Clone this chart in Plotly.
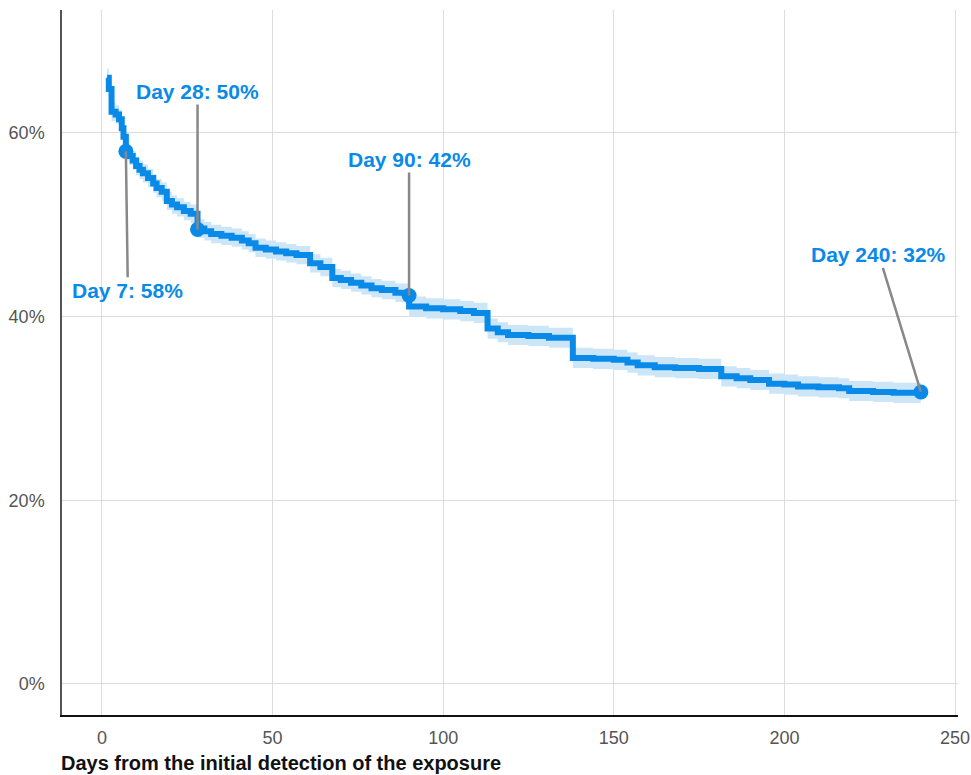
import plotly.graph_objects as go

# Kaplan-Meier style step curve (day, % remaining)
days = [1.5, 2.0, 2.8, 4.0, 5.0, 5.8, 6.3, 7.0, 8.0, 9.0, 10, 11, 12, 13.5, 15, 16, 17.5, 19,
        20.5, 22, 24, 26, 28, 30, 32, 35, 38, 41, 43, 45, 48, 51, 54, 57, 61, 64, 67.5, 70,
        73, 76, 79, 82, 86, 90, 95, 100, 105, 109, 113, 116, 119, 125, 131, 138, 144, 150,
        154, 157, 162, 168, 175, 181.5, 186, 190, 195.5, 200, 204, 210, 216, 219, 226, 232, 240]
share = [66.0, 64.8, 62.3, 62.0, 61.5, 60.5, 59.6, 58.0, 57.5, 57.0, 56.4, 56.0, 55.6, 55.1,
         54.5, 54.0, 53.6, 52.6, 52.2, 51.9, 51.5, 51.2, 49.6, 49.3, 49.0, 48.8, 48.6, 48.3,
         48.0, 47.5, 47.3, 47.1, 46.9, 46.7, 45.8, 45.4, 44.2, 44.0, 43.7, 43.4, 43.1, 42.9,
         42.6, 41.1, 40.9, 40.8, 40.6, 40.4, 38.7, 38.3, 38.0, 37.9, 37.7, 35.5, 35.4, 35.3,
         35.0, 34.7, 34.5, 34.4, 34.3, 33.5, 33.3, 33.1, 32.7, 32.6, 32.4, 32.3, 32.2, 31.9,
         31.8, 31.7, 31.6]
ci_low = [65.0, 63.8, 61.3, 61.0, 60.5, 59.5, 58.6, 57.0, 56.5, 56.0, 55.4, 55.0, 54.6, 54.1,
          53.5, 53.0, 52.6, 51.6, 51.2, 50.9, 50.5, 50.2, 48.6, 48.3, 48.0, 47.8, 47.6, 47.3,
          47.0, 46.5, 46.3, 46.1, 45.9, 45.7, 44.8, 44.4, 43.2, 43.0, 42.7, 42.4, 42.1, 41.9,
          41.6, 40.0, 39.8, 39.7, 39.5, 39.3, 37.6, 37.2, 36.9, 36.8, 36.6, 34.4, 34.3, 34.2,
          33.9, 33.6, 33.4, 33.3, 33.2, 32.4, 32.2, 32.0, 31.6, 31.5, 31.3, 31.2, 31.1, 30.8,
          30.7, 30.6, 30.5]
ci_high = [67.0, 65.8, 63.3, 63.0, 62.5, 61.5, 60.6, 59.0, 58.5, 58.0, 57.4, 57.0, 56.6, 56.1,
           55.5, 55.0, 54.6, 53.6, 53.2, 52.9, 52.5, 52.2, 50.6, 50.3, 50.0, 49.8, 49.6, 49.3,
           49.0, 48.5, 48.3, 48.1, 47.9, 47.7, 46.8, 46.4, 45.2, 45.0, 44.7, 44.4, 44.1, 43.9,
           43.6, 42.2, 42.0, 41.9, 41.7, 41.5, 39.8, 39.4, 39.1, 39.0, 38.8, 36.6, 36.5, 36.4,
           36.1, 35.8, 35.6, 35.5, 35.4, 34.6, 34.4, 34.2, 33.8, 33.7, 33.5, 33.4, 33.3, 33.0,
           32.9, 32.8, 32.7]

mark_days = [7, 28, 90, 240]
mark_share = [58.0, 49.5, 42.3, 31.8]
mark_labels = ["Day 7: 58%", "Day 28: 50%", "Day 90: 42%", "Day 240: 32%"]
label_offsets = [(2, 139), (0, -138), (0, -136), (-42, -137)]

x_ticks = [0, 50, 100, 150, 200, 250]
y_ticks = [0, 20, 40, 60]
y_tick_text = ["0%", "20%", "40%", "60%"]
x_title = "Days from the initial detection of the exposure"

BLUE = "#0a8ae8"
BAND = "#cce6f8"

fig = go.Figure()
fig.add_trace(go.Scatter(x=days, y=ci_low, mode="lines", line=dict(width=0, shape="hv"),
                         hoverinfo="skip", showlegend=False))
fig.add_trace(go.Scatter(x=days, y=ci_high, mode="lines", line=dict(width=0, shape="hv"),
                         fill="tonexty", fillcolor=BAND, hoverinfo="skip", showlegend=False))
fig.add_trace(go.Scatter(x=days, y=share, mode="lines", line=dict(color=BLUE, width=6, shape="hv"),
                         showlegend=False))
fig.add_trace(go.Scatter(x=mark_days, y=mark_share, mode="markers",
                         marker=dict(color=BLUE, size=15), showlegend=False))

for d, s, t, (ax, ay) in zip(mark_days, mark_share, mark_labels, label_offsets):
    fig.add_annotation(x=d, y=s, text=f"<b>{t}</b>", showarrow=True, arrowhead=0,
                       arrowwidth=2.5, arrowcolor="#888888", ax=ax, ay=ay,
                       font=dict(family="Liberation Sans, Arial", size=21, color=BLUE))

fig.add_annotation(xref="paper", yref="paper", x=0, y=0, xanchor="left", yanchor="top",
                   yshift=-35, xshift=-3, showarrow=False, text=f"<b>{x_title}</b>",
                   font=dict(family="Liberation Sans, Arial", size=20, color="#111111"))

fig.update_layout(
    width=971, height=775,
    margin=dict(l=62, r=13, t=10, b=60),
    paper_bgcolor="white", plot_bgcolor="white",
    xaxis=dict(range=[-11.72, 250.88], tickvals=x_ticks, showgrid=True, gridcolor="#dddddd",
               gridwidth=1, zeroline=False, showline=True, linecolor="#111111", linewidth=2,
               ticks="", ticklabelstandoff=5, ticklabeloverflow="allow", automargin=False,
               tickfont=dict(family="Liberation Sans, Arial", size=18, color="#555555")),
    yaxis=dict(range=[-3.38, 73.39], tickvals=y_ticks, ticktext=y_tick_text, showgrid=True,
               gridcolor="#dddddd", gridwidth=1, zeroline=False, showline=True,
               linecolor="#555555", linewidth=1.5, ticks="", ticklabelstandoff=12,
               automargin=False,
               tickfont=dict(family="Liberation Sans, Arial", size=18, color="#555555")),
)

fig.write_html("out.html", config={"displayModeBar": False},
               post_script="document.body.style.margin='0';document.body.style.overflow='hidden';")
